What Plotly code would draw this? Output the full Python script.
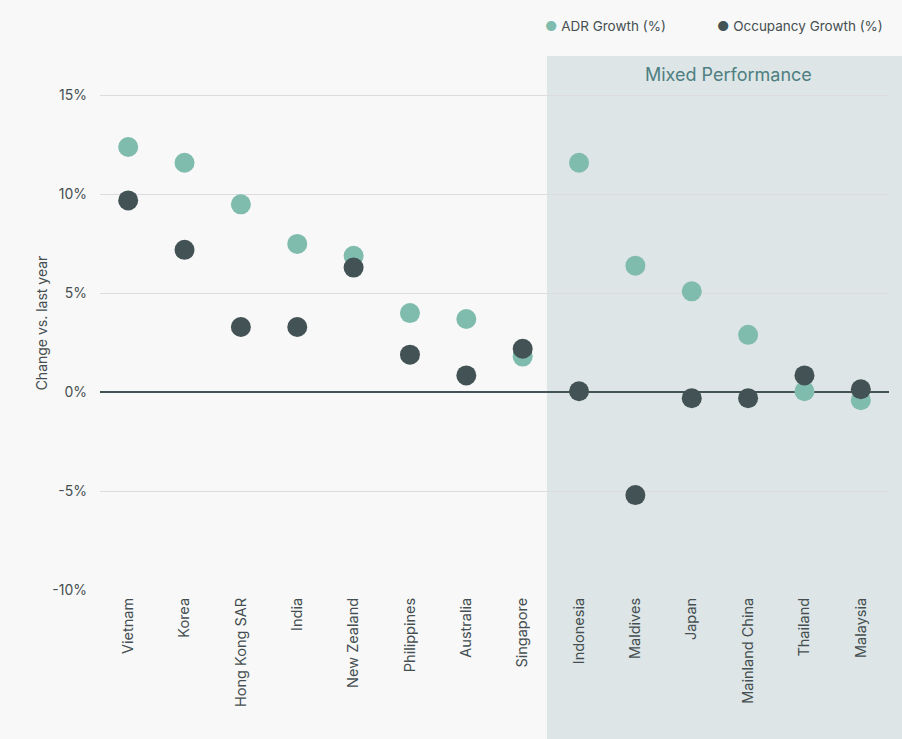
import plotly.graph_objects as go

markets = ["Vietnam", "Korea", "Hong Kong SAR", "India", "New Zealand", "Philippines",
           "Australia", "Singapore", "Indonesia", "Maldives", "Japan", "Mainland China",
           "Thailand", "Malaysia"]
adr_growth = [12.4, 11.6, 9.5, 7.5, 6.9, 4.0, 3.7, 1.8, 11.6, 6.4, 5.1, 2.9, 0.05, -0.4]
occ_growth = [9.7, 7.2, 3.3, 3.3, 6.3, 1.9, 0.85, 2.2, 0.05, -5.2, -0.3, -0.3, 0.85, 0.15]
y_ticks = [-10, -5, 0, 5, 10, 15]
y_labels = ["-10%", "-5%", "0%", "5%", "10%", "15%"]

ADR_COLOR = "#80bcad"
OCC_COLOR = "#435254"
TEXT_COLOR = "#454f51"
FONT = "Inter"

fig = go.Figure()
fig.add_trace(go.Scatter(x=markets, y=adr_growth, mode="markers", name="ADR Growth (%)",
                         marker=dict(size=20, color=ADR_COLOR), showlegend=False))
fig.add_trace(go.Scatter(x=markets, y=occ_growth, mode="markers", name="Occupancy Growth (%)",
                         marker=dict(size=20, color=OCC_COLOR), showlegend=False))

# mixed performance panel
fig.add_shape(type="rect", xref="paper", yref="paper", x0=0.5665, x1=1.02, y0=-0.3, y1=1,
              fillcolor="#dde5e6", line_width=0, layer="below")
fig.add_annotation(text="Mixed Performance", xref="paper", yref="paper", x=0.796, y=0.966,
                   xanchor="center", yanchor="middle", showarrow=False,
                   font=dict(family=FONT, size=18, color="#4e7f81"))

# legend drawn as text, top right
legend_items = [("ADR Growth (%)", ADR_COLOR, 0.5615), ("Occupancy Growth (%)", OCC_COLOR, 0.7795)]
for label, color, xpos in legend_items:
    fig.add_annotation(text=f"<span style='color:{color}'>●</span> {label}",
                       xref="paper", yref="paper", x=xpos, y=1.056,
                       xanchor="left", yanchor="middle", showarrow=False,
                       font=dict(family=FONT, size=13.5, color=TEXT_COLOR))

fig.update_layout(
    width=902, height=739,
    margin=dict(l=100, r=13, t=56, b=149),
    paper_bgcolor="#f8f8f8", plot_bgcolor="rgba(0,0,0,0)",
    font=dict(family=FONT, size=14, color=TEXT_COLOR),
    showlegend=False,
)
fig.update_xaxes(range=[-0.5, 13.5], tickangle=-90, showgrid=False, showline=False,
                 ticks="", tickfont=dict(size=14.5), ticklabelstandoff=4, fixedrange=True)
fig.update_yaxes(range=[-10, 17], tickvals=y_ticks, ticktext=y_labels, showgrid=True,
                 gridcolor="#dcdcdc", gridwidth=1, zeroline=True, zerolinecolor=OCC_COLOR,
                 zerolinewidth=2, showline=False, ticks="", ticklabelstandoff=12,
                 title=dict(text="Change vs. last year", font=dict(size=14), standoff=1),
                 tickfont=dict(size=14))

fig.write_html("out.html", config={"displayModeBar": False},
               post_script="document.body.style.margin='0';")
